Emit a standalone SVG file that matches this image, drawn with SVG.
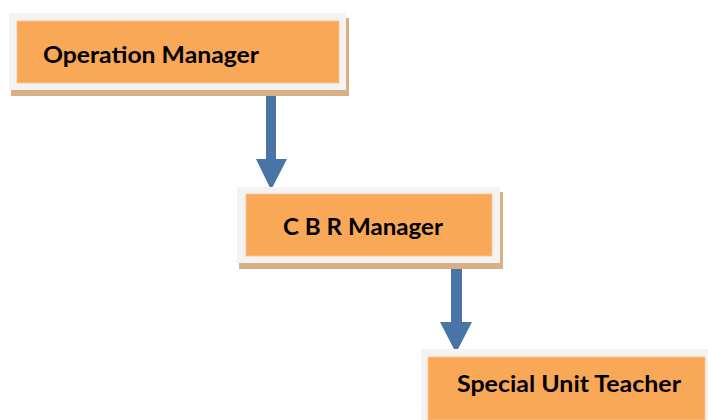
<svg xmlns="http://www.w3.org/2000/svg" width="708" height="420" viewBox="0 0 708 420">
  <defs>
    <style>
      .shadow { fill: #D9AF85; }
      .frame { fill: #F3F3F3; }
      .box { fill: #F9A857; stroke: #F7C48E; stroke-width: 0.8; }
      .label { font-family: Lato, "Liberation Sans", sans-serif; font-weight: 700; font-size: 22px; fill: #000; }
      .shaft { fill: #4874A6; }
    </style>
  </defs>
  <rect width="708" height="420" fill="#fff"/>

  <!-- connectors -->
  <g id="connectors">
    <polygon class="shaft" points="266,88 276,88 276,159 287,159 271,190 256,159 266,159"/>
    <polygon class="shaft" points="451,268 462,268 462,322 472,322 456,353 440,322 451,322"/>
  </g>

  <g id="node-operation-manager">
    <rect class="shadow" x="11" y="18" width="338" height="78"/>
    <rect class="frame" x="9" y="13" width="337" height="77"/>
    <rect class="box" x="17" y="21" width="322" height="62"/>
    <text class="label" x="43" y="63" textLength="216" lengthAdjust="spacingAndGlyphs">Operation Manager</text>
  </g>

  <g id="node-cbr-manager">
    <rect class="shadow" x="239" y="192" width="264" height="77"/>
    <rect class="frame" x="237" y="187" width="263" height="76"/>
    <rect class="box" x="246" y="194" width="246" height="62"/>
    <text class="label" x="283" y="235" textLength="160" lengthAdjust="spacingAndGlyphs">C B R Manager</text>
  </g>

  <g id="node-special-unit-teacher">
    <rect class="frame" x="421" y="349" width="287" height="71"/>
    <rect class="box" x="428" y="357" width="277" height="63"/>
    <text class="label" x="457" y="392" textLength="224" lengthAdjust="spacingAndGlyphs">Special Unit Teacher</text>
  </g>
</svg>
